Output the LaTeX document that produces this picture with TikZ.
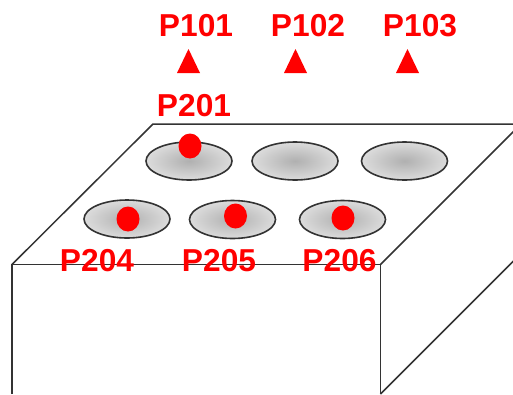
\documentclass[tikz,border=0pt]{standalone}
\usepackage{fontspec}
\setmainfont{Liberation Sans}
\definecolor{edgeink}{HTML}{333333}
\definecolor{holeout}{HTML}{DCDCDC}
\definecolor{holein}{HTML}{B0B0B0}
\definecolor{markred}{HTML}{FF0000}
\tikzset{
  boxedge/.style={draw=edgeink,line width=1.5pt},
  hole/.style={draw=edgeink,line width=1.6pt,inner color=holein,outer color=holeout},
  reddot/.style={fill=markred},
  redtri/.style={fill=markred},
  plabel/.style={text=markred,inner sep=0pt,anchor=base,font=\fontsize{31.7}{38}\selectfont\bfseries}
}
\begin{document}
\begin{tikzpicture}[x=1pt,y=-1pt]
\useasboundingbox (0,0) rectangle (513,394);
\clip (0,0) rectangle (513,394);
\fill[white] (0,0) rectangle (513,394);
% box
\coordinate (fl) at (12,264.5);
\coordinate (fr) at (380.5,264.5);
\coordinate (bl) at (153,124);
\coordinate (br) at (521,124);
\coordinate (flb) at (12,394);
\coordinate (frb) at (380.5,394);
\coordinate (brb) at (521,253.5);
\draw[boxedge,line join=miter] (flb) -- (fl) -- (fr) -- (frb);
\draw[boxedge] (fl) -- (bl) -- (br) -- (fr);
\draw[boxedge] (frb) -- (brb);
% holes
\foreach \cx/\cy in {189/161,295/161,404.5/161,127/219,232.5/219.5,342.5/219.5}
  \draw[hole] (\cx,\cy) ellipse [x radius=43,y radius=19];
% red dots
\fill[reddot] (190,146) ellipse [x radius=11.5,y radius=12.5];
\fill[reddot] (128,219) ellipse [x radius=11.5,y radius=12.5];
\fill[reddot] (235.5,216) ellipse [x radius=11.5,y radius=12.5];
\fill[reddot] (343,218) ellipse [x radius=11.5,y radius=12.5];
% triangles
\foreach \tx in {188.5,295.5,407.5}
  \fill[redtri] (\tx-11.5,73) -- (\tx,49) -- (\tx+11.5,73) -- cycle;
% labels
\node[plabel] (p101) at (196,36) {P101};
\node[plabel] (p102) at (308,36) {P102};
\node[plabel] (p103) at (420,36) {P103};
\node[plabel] (p201) at (194,116.5) {P201};
\node[plabel] (p204) at (97,271.5) {P204};
\node[plabel] (p205) at (219,271.5) {P205};
\node[plabel] (p206) at (339.5,271.5) {P206};
\end{tikzpicture}
\end{document}
